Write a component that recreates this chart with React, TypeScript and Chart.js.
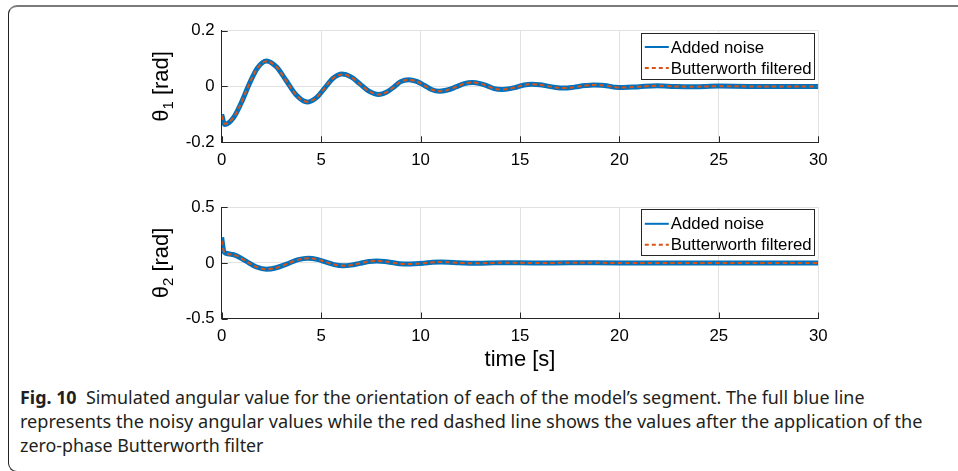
import React, { useEffect, useRef } from "react";
import { Chart, registerables } from "chart.js";

Chart.register(...registerables);

// ---------- data ----------
const timeTheta1 = [
  0, 0.15, 0.6, 1.0, 1.4, 1.8, 2.25, 2.75, 3.25, 3.75, 4.3, 4.75, 5.2, 5.6, 6.05, 6.5, 6.95, 7.4, 7.9,
  8.3, 8.65, 9.0, 9.4, 9.8, 10.18, 10.55, 10.95, 11.35, 11.78, 12.2, 12.6, 13.0, 13.35, 13.7, 14.1,
  14.5, 14.85, 15.2, 15.6, 16.0, 16.4, 16.8, 17.2, 17.6, 17.95, 18.3, 18.7, 19.1, 19.45, 19.8, 20.2,
  21.0, 21.9, 22.8, 23.7, 25.0, 26.5, 28.0, 30.0,
];
const theta1Noisy = [
  -0.1, -0.136, -0.111, -0.056, 0.011, 0.066, 0.091, 0.07, 0.02, -0.031, -0.056, -0.041, -0.004, 0.029, 0.044,
  0.034, 0.009, -0.017, -0.029, -0.02, -0.003, 0.017, 0.024, 0.018, 0.004, -0.011, -0.017, -0.013, -0.002,
  0.01, 0.014, 0.01, 0.002, -0.008, -0.011, -0.008, -0.002, 0.005, 0.008, 0.006, 0.001, -0.004, -0.006,
  -0.004, 0.0, 0.003, 0.005, 0.004, 0.001, -0.003, -0.004, -0.001, 0.002, 0.0, -0.001, 0.001, 0.0, 0.0, 0.0,
];
const theta1Filtered = [
  -0.105, -0.134, -0.111, -0.056, 0.011, 0.066, 0.09, 0.07, 0.02, -0.031, -0.055, -0.041, -0.004, 0.029, 0.043,
  0.034, 0.009, -0.017, -0.029, -0.02, -0.003, 0.017, 0.023, 0.018, 0.004, -0.011, -0.017, -0.013, -0.002,
  0.01, 0.014, 0.01, 0.002, -0.008, -0.011, -0.008, -0.002, 0.005, 0.008, 0.006, 0.001, -0.004, -0.006,
  -0.004, 0.0, 0.003, 0.005, 0.004, 0.001, -0.003, -0.004, -0.001, 0.002, 0.0, -0.001, 0.001, 0.0, 0.0, 0.0,
];

const timeTheta2 = [
  0, 0.05, 0.1, 0.2, 0.7, 1.2, 1.75, 2.25, 2.75, 3.3, 3.85, 4.35, 4.8, 5.22, 5.65, 6.1, 6.5, 6.95, 7.4, 7.8,
  8.2, 8.58, 8.95, 9.35, 9.75, 10.18, 10.6, 11.0, 11.4, 11.8, 12.2, 12.6, 13.4, 14.2, 15.8, 17.5, 20.0, 25.0, 30.0,
];
const theta2Noisy = [
  0.23, 0.16, 0.105, 0.088, 0.068, 0.018, -0.037, -0.057, -0.044, -0.008, 0.029, 0.042, 0.032, 0.009, -0.015,
  -0.025, -0.02, -0.004, 0.012, 0.017, 0.013, 0.003, -0.007, -0.011, -0.008, -0.002, 0.005, 0.008, 0.006, 0.002,
  -0.002, -0.004, -0.001, 0.002, -0.001, 0.001, 0.0, 0.0, 0.0,
];
const theta2Filtered = [
  0.2, 0.15, 0.105, 0.088, 0.068, 0.018, -0.037, -0.057, -0.044, -0.008, 0.029, 0.042, 0.032, 0.009, -0.015,
  -0.025, -0.02, -0.004, 0.012, 0.017, 0.013, 0.003, -0.007, -0.011, -0.008, -0.002, 0.005, 0.008, 0.006, 0.002,
  -0.002, -0.004, -0.001, 0.002, -0.001, 0.001, 0.0, 0.0, 0.0,
];

const xRange = [0, 30];
const xStep = 5;
const y1Range = [-0.2, 0.2];
const y1Step = 0.2;
const y2Range = [-0.5, 0.5];
const y2Step = 0.5;

const legendLabels = ["Added noise", "Butterworth filtered"];
const xTitle = "time [s]";
const yTitleSymbol = "θ";
const yTitle1Sub = "1";
const yTitle2Sub = "2";
const yTitleUnit = " [rad]";

const captionBold = "Fig. 10";
const captionLines = [
  "  Simulated angular value for the orientation of each of the model’s segment. The full blue line",
  "represents the noisy angular values while the red dashed line shows the values after the application of the",
  "zero-phase Butterworth filter",
];

// ---------- styles ----------
const BLUE = "#0072BD";
const RED = "#D95319";
const AXIS = "#262626";
const GRID = "#e2e2e2";
const FONT = "'Liberation Sans', Arial, Helvetica, sans-serif";

const decorPlugin = {
  id: "matlabDecor",
  afterDraw(chart: any, _args: any, opts: any) {
    const { ctx, chartArea: ca, scales } = chart;
    const xs = scales.x;
    const ys = scales.y;
    ctx.save();
    // inward tick marks
    ctx.strokeStyle = AXIS;
    ctx.lineWidth = 1;
    ctx.beginPath();
    xs.ticks.forEach((t: any) => {
      const px = Math.round(xs.getPixelForValue(t.value)) + 0.5;
      ctx.moveTo(px, ca.bottom);
      ctx.lineTo(px, ca.bottom - 6);
    });
    ys.ticks.forEach((t: any) => {
      const py = Math.round(ys.getPixelForValue(t.value)) + 0.5;
      ctx.moveTo(ca.left, py);
      ctx.lineTo(ca.left + 6, py);
    });
    ctx.stroke();

    // legend box
    const bw = 172.5;
    const bh = 46;
    const bx = ca.right - 5 - bw;
    const by = ca.top + 2;
    ctx.fillStyle = "#ffffff";
    ctx.fillRect(bx, by, bw, bh);
    ctx.strokeStyle = "#262626";
    ctx.lineWidth = 1;
    ctx.strokeRect(Math.round(bx) + 0.5, Math.round(by) + 0.5, Math.round(bw), Math.round(bh));
    const rows = [by + 14.5, by + 35.5];
    ctx.lineWidth = 2;
    ctx.strokeStyle = BLUE;
    ctx.setLineDash([]);
    ctx.beginPath();
    ctx.moveTo(bx + 4, rows[0]);
    ctx.lineTo(bx + 28, rows[0]);
    ctx.stroke();
    ctx.strokeStyle = RED;
    ctx.setLineDash([4, 3]);
    ctx.beginPath();
    ctx.moveTo(bx + 4, rows[1]);
    ctx.lineTo(bx + 28, rows[1]);
    ctx.stroke();
    ctx.setLineDash([]);
    ctx.fillStyle = "#000000";
    ctx.font = `16.8px ${FONT}`;
    ctx.textAlign = "left";
    ctx.textBaseline = "middle";
    ctx.fillText(legendLabels[0], bx + 30, rows[0] + 1);
    ctx.fillText(legendLabels[1], bx + 30, rows[1] + 1);

    // y title with subscript
    const cy = (ca.top + ca.bottom) / 2;
    ctx.save();
    ctx.translate(opts.yTitleX, cy);
    ctx.rotate(-Math.PI / 2);
    ctx.font = `22px ${FONT}`;
    const wT = ctx.measureText(yTitleSymbol).width;
    const wU = ctx.measureText(yTitleUnit).width;
    ctx.font = `15px ${FONT}`;
    const wS = ctx.measureText(opts.sub).width;
    const total = wT + wS + wU;
    let x0 = -total / 2;
    ctx.textBaseline = "alphabetic";
    ctx.textAlign = "left";
    ctx.fillStyle = "#000000";
    ctx.font = `22px ${FONT}`;
    ctx.fillText(yTitleSymbol, x0, 0);
    x0 += wT;
    ctx.font = `15px ${FONT}`;
    ctx.fillText(opts.sub, x0, 5);
    x0 += wS;
    ctx.font = `22px ${FONT}`;
    ctx.fillText(yTitleUnit, x0, 0);
    ctx.restore();

    if (opts.showXTitle) {
      ctx.font = `22px ${FONT}`;
      ctx.textAlign = "center";
      ctx.textBaseline = "alphabetic";
      ctx.fillStyle = "#000000";
      ctx.fillText(xTitle, (ca.left + ca.right) / 2, ca.bottom + opts.xTitleOffset);
    }
    ctx.restore();
  },
};

function makeConfig(
  time: number[],
  noisy: number[],
  filtered: number[],
  yRange: number[],
  yStep: number,
  sub: string,
  padTop: number,
  xHeight: number,
  showXTitle: boolean
): any {
  return {
    type: "line",
    data: {
      datasets: [
        {
          label: legendLabels[1],
          data: time.map((t, i) => ({ x: t, y: filtered[i] })),
          borderColor: RED,
          borderWidth: 2,
          borderDash: [4.5, 3],
          pointRadius: 0,
          cubicInterpolationMode: "monotone",
          fill: false,
          order: 0,
        },
        {
          label: legendLabels[0],
          data: time.map((t, i) => ({ x: t, y: noisy[i] })),
          borderColor: BLUE,
          borderWidth: 5,
          pointRadius: 0,
          cubicInterpolationMode: "monotone",
          fill: false,
          order: 1,
        },
      ],
    },
    options: {
      animation: false,
      responsive: false,
      devicePixelRatio: 1,
      events: [],
      layout: { padding: { top: padTop, right: 21.7, left: 0, bottom: 0 } },
      plugins: {
        legend: { display: false },
        tooltip: { enabled: false },
        matlabDecor: { yTitleX: 28, sub, showXTitle, xTitleOffset: 47 },
      },
      scales: {
        x: {
          type: "linear",
          min: xRange[0],
          max: xRange[1],
          ticks: {
            stepSize: xStep,
            color: "#000000",
            font: { family: FONT, size: 16.8 },
            padding: 8,
            maxRotation: 0,
          },
          grid: { color: GRID, drawTicks: false, lineWidth: 1 },
          border: { color: AXIS, width: 1 },
          afterFit: (s: any) => {
            s.height = xHeight;
          },
        },
        y: {
          type: "linear",
          min: yRange[0],
          max: yRange[1],
          ticks: {
            stepSize: yStep,
            color: "#000000",
            font: { family: FONT, size: 16.8 },
            padding: 7,
            callback: (v: any) => String(Math.round(Number(v) * 10) / 10),
          },
          grid: { color: GRID, drawTicks: false, lineWidth: 1 },
          border: { color: AXIS, width: 1 },
          afterFit: (s: any) => {
            s.width = 81.7;
          },
        },
      },
    },
    plugins: [decorPlugin],
  };
}

export default function App() {
  const c1 = useRef<HTMLCanvasElement>(null);
  const c2 = useRef<HTMLCanvasElement>(null);
  const lineRefs = useRef<(HTMLDivElement | null)[]>([]);

  useEffect(() => {
    const ch1 = new Chart(
      c1.current as HTMLCanvasElement,
      makeConfig(timeTheta1, theta1Noisy, theta1Filtered, y1Range, y1Step, yTitle1Sub, 20.5, 37.7, false)
    );
    const ch2 = new Chart(
      c2.current as HTMLCanvasElement,
      makeConfig(timeTheta2, theta2Noisy, theta2Filtered, y2Range, y2Step, yTitle2Sub, 22.3, 56.5, true)
    );
    // fit caption lines to the reference widths
    const targets = [844.5, 902.5, 243.5];
    lineRefs.current.forEach((el, i) => {
      if (!el) return;
      el.style.transform = "none";
      const w = el.getBoundingClientRect().width;
      if (w > 0) el.style.transform = `scaleX(${targets[i] / w})`;
    });
    return () => {
      ch1.destroy();
      ch2.destroy();
    };
  }, []);

  const captionFont = "'Noto Sans', 'Open Sans', sans-serif";
  const lineStyle: React.CSSProperties = {
    position: "absolute",
    left: 19.5,
    whiteSpace: "pre",
    display: "inline-block",
    transformOrigin: "0 0",
    fontFamily: captionFont,
    fontSize: 18,
    lineHeight: "24px",
    color: "#231f20",
  };

  return (
    <div
      style={{
        position: "absolute",
        left: 0,
        top: 0,
        width: 958,
        height: 471,
        overflow: "hidden",
        background: "#ffffff",
      }}
    >
      <div
        style={{
          position: "absolute",
          left: 8,
          top: 5,
          width: 1000,
          height: 467,
          borderTop: "2px solid #7a7a7a",
          borderLeft: "1px solid #222222",
          borderBottom: "1px solid #222222",
          borderRadius: "9px 0 0 9px",
          boxSizing: "border-box",
        }}
      />
      <canvas
        ref={c1}
        width={700}
        height={170}
        style={{ position: "absolute", left: 140, top: 10, width: 700, height: 170, display: "block" }}
      />
      <canvas
        ref={c2}
        width={700}
        height={190}
        style={{ position: "absolute", left: 140, top: 185, width: 700, height: 190, display: "block" }}
      />
      <div ref={(el) => { lineRefs.current[0] = el; }} style={{ ...lineStyle, top: 385 }}>
        <b>{captionBold}</b>
        {captionLines[0]}
      </div>
      <div ref={(el) => { lineRefs.current[1] = el; }} style={{ ...lineStyle, top: 409 }}>
        {captionLines[1]}
      </div>
      <div ref={(el) => { lineRefs.current[2] = el; }} style={{ ...lineStyle, top: 433 }}>
        {captionLines[2]}
      </div>
    </div>
  );
}
